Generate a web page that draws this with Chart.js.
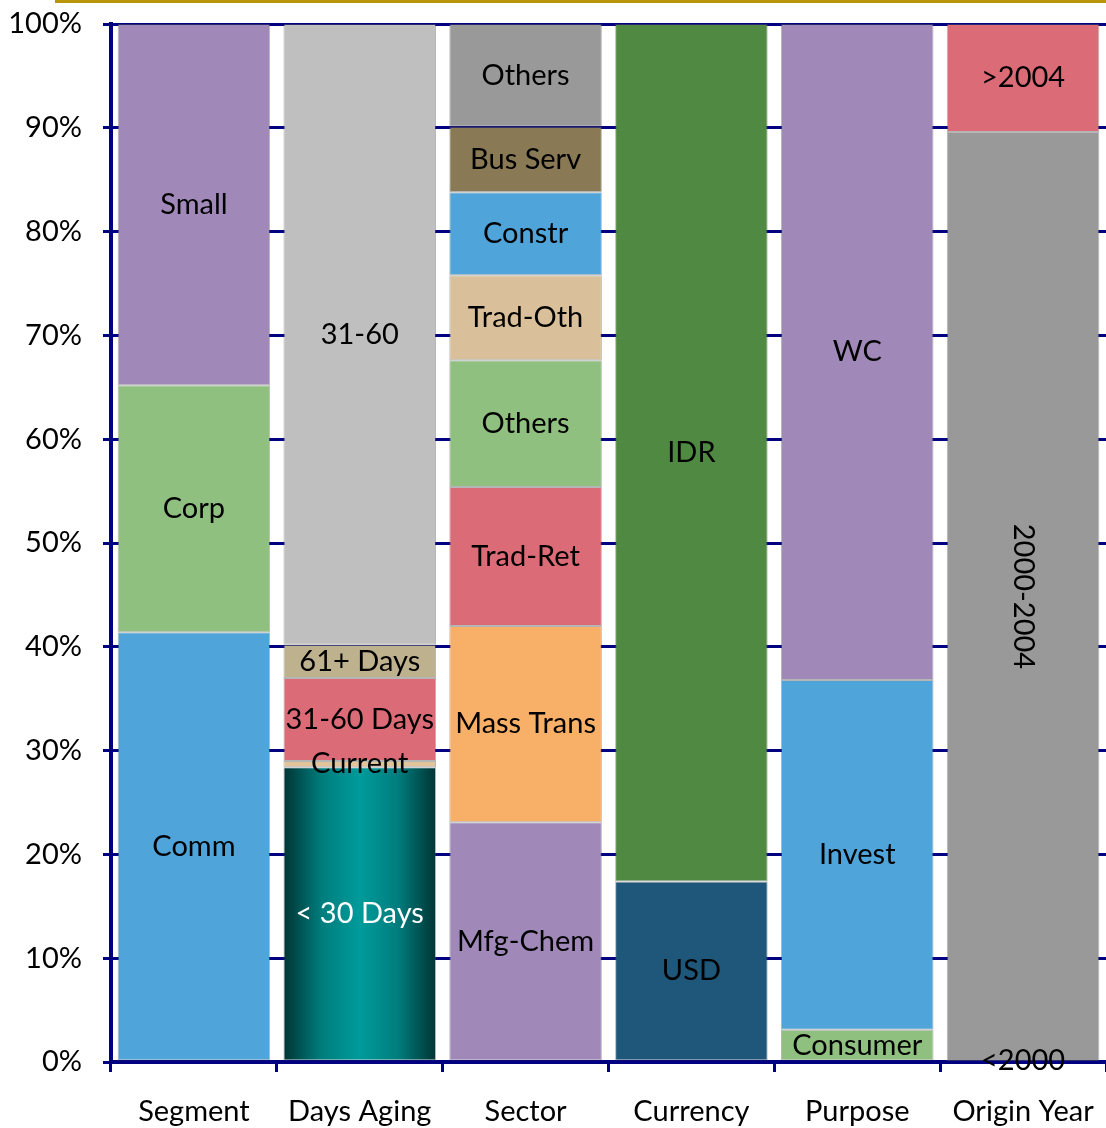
<!DOCTYPE html>
<html lang="en">
<head>
    <meta charset="UTF-8">
    <title>Portfolio Composition</title>
    <script src="https://cdn.jsdelivr.net/npm/chart.js"></script>
    <style>
        body { margin: 0; background: #fff; }
        #wrap { position: relative; width: 1106px; height: 1128px; }
        #topRule { position: absolute; left: 55px; top: 0; width: 1051px; height: 3px; background: #b8960a; }
    </style>
</head>
<body>
<div id="wrap">
    <div id="topRule"></div>
    <canvas id="myChart" width="1106" height="1128"></canvas>
</div>

<script>
    // categories on the x axis
    var categories = ['Segment', 'Days Aging', 'Sector', 'Currency', 'Purpose', 'Origin Year'];

    // one list of parts (bottom to top) and shares (%) per column
    var segmentParts = ['Comm', 'Corp', 'Small'];
    var segmentValues = [41.4, 23.8, 34.8];

    var agingParts = ['< 30 Days', 'Current', '31-60 Days', '61+ Days', '31-60'];
    var agingValues = [28.4, 0.6, 8.0, 3.2, 59.8];

    var sectorParts = ['Mfg-Chem', 'Mass Trans', 'Trad-Ret', 'Others', 'Trad-Oth', 'Constr', 'Bus Serv', 'Others'];
    var sectorValues = [23.1, 18.9, 13.4, 12.2, 8.2, 8.0, 6.3, 9.9];

    var currencyParts = ['USD', 'IDR'];
    var currencyValues = [17.4, 82.6];

    var purposeParts = ['Consumer', 'Invest', 'WC'];
    var purposeValues = [3.1, 33.7, 63.2];

    var originParts = ['<2000', '2000-2004', '>2004'];
    var originValues = [0.1, 89.5, 10.4];

    var yTicks = [0, 10, 20, 30, 40, 50, 60, 70, 80, 90, 100];

    // fill colours per part, same order as above
    var purple = 'rgb(160,137,184)', green = 'rgb(143,192,128)', blue = 'rgb(79,164,217)',
        red = 'rgb(219,107,118)', grey = 'rgb(153,153,153)';
    var segmentColors = [blue, green, purple];
    var agingColors = ['teal', 'rgb(226,196,154)', red, 'rgb(190,177,142)', 'rgb(191,191,191)'];
    var sectorColors = [purple, 'rgb(248,176,104)', red, green, 'rgb(218,192,154)', blue, 'rgb(137,121,85)', grey];
    var currencyColors = ['rgb(30,87,122)', 'rgb(80,137,66)'];
    var purposeColors = [green, blue, purple];
    var originColors = [grey, grey, red];

    var barPct = 0.92;
    var font = "Lato, 'Open Sans', sans-serif";
    var fontSize = 29;

    // teal bar shaded dark at both edges
    function tealGradient(ctx) {
        var chart = ctx.chart;
        if (!chart.chartArea) return 'rgb(0,150,150)';
        var xs = chart.scales.x;
        var cx = xs.getPixelForValue(ctx.dataIndex);
        var half = xs.width / categories.length * barPct / 2;
        var g = chart.ctx.createLinearGradient(cx - half, 0, cx + half, 0);
        g.addColorStop(0, 'rgb(0,52,52)');
        g.addColorStop(0.25, 'rgb(0,125,125)');
        g.addColorStop(0.5, 'rgb(0,155,155)');
        g.addColorStop(0.75, 'rgb(0,125,125)');
        g.addColorStop(1, 'rgb(0,52,52)');
        return g;
    }

    var groups = [
        [segmentParts, segmentValues, segmentColors],
        [agingParts, agingValues, agingColors],
        [sectorParts, sectorValues, sectorColors],
        [currencyParts, currencyValues, currencyColors],
        [purposeParts, purposeValues, purposeColors],
        [originParts, originValues, originColors]
    ];

    var datasets = [];
    groups.forEach(function (grp, col) {
        for (var i = 0; i < grp[0].length; i++) {
            var data = categories.map(function () { return null; });
            data[col] = grp[1][i];
            datasets.push({
                label: grp[0][i],
                data: data,
                backgroundColor: grp[2][i] === 'teal' ? tealGradient : grp[2][i],
                borderColor: 'rgba(90,90,90,0.45)',
                borderWidth: 1,
                borderSkipped: false,
                labelColor: grp[0][i] === '< 30 Days' ? '#fff' : '#000',
                labelRotate: grp[0][i] === '2000-2004'
            });
        }
    });

    // part names written in the middle of each block
    var blockLabels = {
        id: 'blockLabels',
        afterDatasetsDraw: function (chart) {
            var c = chart.ctx;
            c.save();
            c.font = fontSize + 'px ' + font;
            c.textAlign = 'center';
            c.textBaseline = 'middle';
            chart.data.datasets.forEach(function (ds, di) {
                var meta = chart.getDatasetMeta(di);
                meta.data.forEach(function (bar, i) {
                    if (ds.data[i] == null) return;
                    var y = (bar.y + bar.base) / 2;
                    c.fillStyle = ds.labelColor;
                    if (ds.labelRotate) {
                        c.save();
                        c.translate(bar.x, y);
                        c.rotate(Math.PI / 2);
                        c.fillText(ds.label, 0, 0);
                        c.restore();
                    } else {
                        c.fillText(ds.label, bar.x, y);
                    }
                });
            });
            c.restore();
        }
    };

    var navy = '#000080';

    new Chart(document.getElementById('myChart'), {
        type: 'bar',
        data: { labels: categories, datasets: datasets },
        options: {
            responsive: false,
            animation: false,
            barPercentage: barPct,
            categoryPercentage: 1,
            layout: { padding: { left: 0, top: 24, right: 0, bottom: 0 } },
            plugins: {
                legend: { display: false },
                tooltip: { enabled: false }
            },
            scales: {
                x: {
                    stacked: true,
                    afterFit: function (scale) {
                        scale.height = 66;
                        scale.paddingLeft = 0;
                        scale.paddingRight = 0;
                    },
                    grid: {
                        offset: true,
                        drawOnChartArea: false,
                        drawTicks: true,
                        tickLength: 10,
                        tickColor: navy,
                        tickWidth: 3
                    },
                    border: { display: true, color: navy, width: 4 },
                    ticks: {
                        color: '#000',
                        padding: 22,
                        maxRotation: 0,
                        font: { family: font, size: fontSize }
                    }
                },
                y: {
                    stacked: true,
                    min: 0,
                    max: 100,
                    afterBuildTicks: function (axis) {
                        axis.ticks = yTicks.map(function (v) { return { value: v }; });
                    },
                    afterFit: function (scale) {
                        scale.width = 111;
                        scale.paddingTop = 0;
                        scale.paddingBottom = 0;
                    },
                    grid: {
                        color: navy,
                        lineWidth: 3,
                        borderDash: [7, 4],
                        tickLength: 8,
                        tickColor: navy,
                        tickWidth: 3
                    },
                    border: { display: true, color: navy, width: 4, dash: [] },
                    ticks: {
                        color: '#000',
                        padding: 21,
                        font: { family: font, size: fontSize },
                        callback: function (v) { return v + '%'; }
                    }
                }
            }
        },
        plugins: [blockLabels]
    });
</script>
</body>
</html>
